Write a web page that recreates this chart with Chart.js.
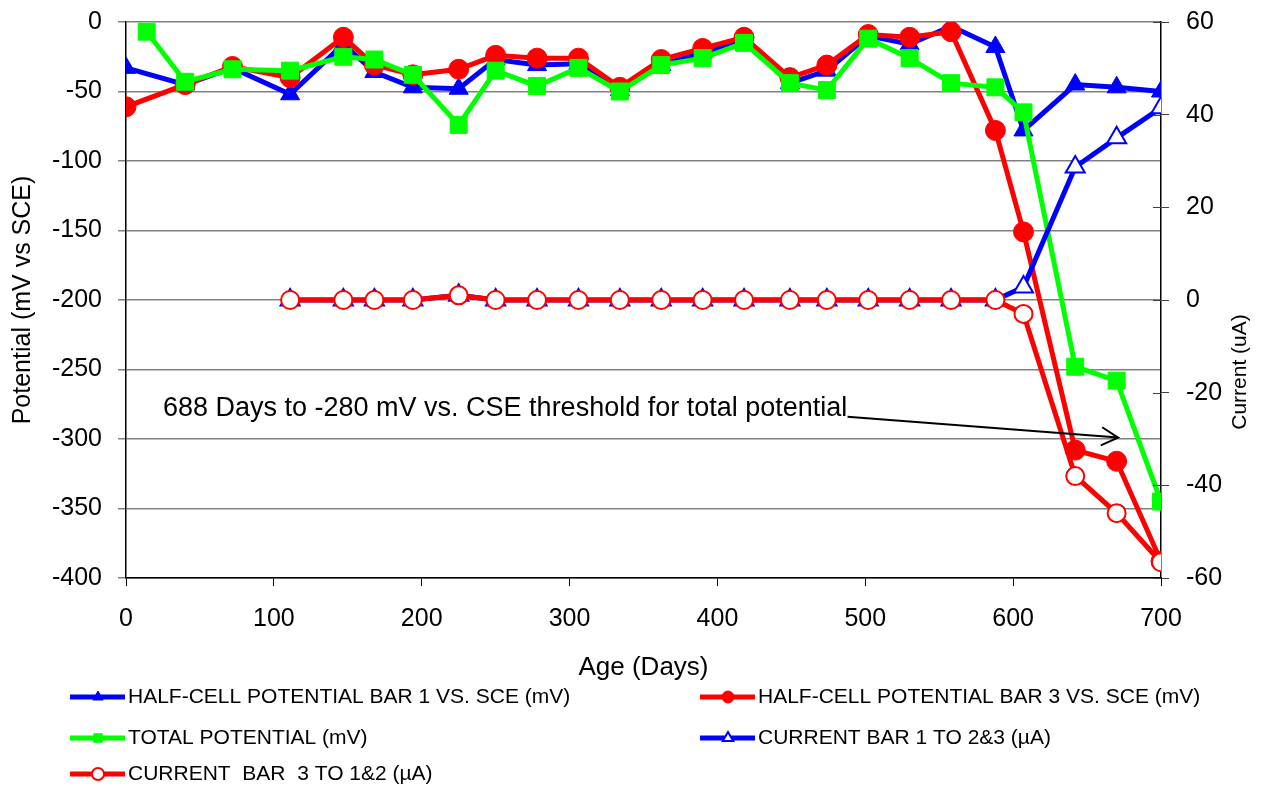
<!DOCTYPE html>
<html>
<head>
<meta charset="utf-8">
<script src="https://cdn.jsdelivr.net/npm/chart.js@4.4.0/dist/chart.umd.min.js"></script>
<style>
  html, body { margin: 0; padding: 0; background: #fff; }
  canvas { display: block; }
</style>
</head>
<body>
<canvas id="potentialChart" width="1267" height="788"></canvas>
<script>
// Age of each reading (days)
const ageDays = [0, 14, 40, 72, 111, 147, 168, 194, 225, 250, 278, 306, 334, 362, 390, 418, 449, 474, 502, 530, 558, 588, 607, 642, 670, 700];

// Potentials (mV vs SCE), null = no reading
const bar1Potential = [-33, null, -45, -33, -52, -16, -36, -47, -48, -27, -31, -30, -49, -31, -22, -13, -44, -35, -10, -16, -3, -18, -78, -45, -47, -50];
const bar3Potential = [-61, null, -45, -32, -40, -11, -31, -38, -34, -24, -26, -26, -47, -27, -19, -11, -40, -31, -9, -11, -7, -78, -151, -308, -316, -388];
const totalPotential = [null, -7, -43, -34, -35, -25, -27, -38, -74, -35, -46, -33, -50, -31, -26, -15, -44, -49, -12, -26, -44, -47, -65, -248, -258, -345];

// Currents (uA)
const currentBar1 = [null, null, null, null, 0, 0, 0, 0, 1, 0, 0, 0, 0, 0, 0, 0, 0, 0, 0, 0, 0, 0, 2.8, 28.7, 35, 41.5];
const currentBar3 = [null, null, null, null, 0, 0, 0, 0, 1, 0, 0, 0, 0, 0, 0, 0, 0, 0, 0, 0, 0, 0, -3, -38, -46, -56.6];

const seriesLabels = [
    'HALF-CELL POTENTIAL BAR 1 VS. SCE (mV)',
    'HALF-CELL POTENTIAL BAR 3 VS. SCE (mV)',
    'TOTAL POTENTIAL (mV)',
    'CURRENT BAR 1 TO 2&3 (\u00b5A)',
    'CURRENT  BAR  3 TO 1&2 (\u00b5A)'
];

// Annotation: text anchor and arrow ends in (days, mV)
const noteText = '688 Days to -280 mV vs. CSE threshold for total potential';
const noteAnchor = [25, -278];
const arrowFrom = [488, -284];
const arrowTo = [671, -299];

const FONT = "'Liberation Sans', Arial, sans-serif";
Chart.defaults.font.family = FONT;
Chart.defaults.color = '#000';

function toPoints(values) {
    const pts = [];
    values.forEach((v, i) => { if (v !== null) pts.push({ x: ageDays[i], y: v }); });
    return pts;
}

function series(label, values, color, style, radius, open, axis, order) {
    return {
        label: label,
        data: toPoints(values),
        yAxisID: axis,
        order: order,
        borderColor: color,
        backgroundColor: color,
        borderWidth: 5,
        pointStyle: style,
        pointRadius: radius,
        pointHoverRadius: radius,
        pointBackgroundColor: open ? '#fff' : color,
        pointBorderColor: color,
        pointBorderWidth: open ? 2 : 1,
        tension: 0
    };
}

// legend, annotation, right-hand title and the inner half of the right ticks
const extras = {
    id: 'extras',
    afterDraw(chart) {
        const ctx = chart.ctx;
        const xs = chart.scales.x, ys = chart.scales.y, yr = chart.scales.y1;
        const area = chart.chartArea;

        // annotation text
        ctx.save();
        ctx.fillStyle = '#000';
        ctx.font = '27px ' + FONT;
        ctx.textAlign = 'left';
        ctx.textBaseline = 'middle';
        ctx.fillText(noteText, xs.getPixelForValue(noteAnchor[0]), ys.getPixelForValue(noteAnchor[1]));

        // arrow
        const x1 = xs.getPixelForValue(arrowFrom[0]), y1 = ys.getPixelForValue(arrowFrom[1]);
        const x2 = xs.getPixelForValue(arrowTo[0]), y2 = ys.getPixelForValue(arrowTo[1]);
        const ang = Math.atan2(y2 - y1, x2 - x1);
        ctx.strokeStyle = '#000';
        ctx.lineWidth = 2;
        ctx.beginPath();
        ctx.moveTo(x1, y1);
        ctx.lineTo(x2, y2);
        ctx.moveTo(x2 - 19 * Math.cos(ang - 0.5), y2 - 19 * Math.sin(ang - 0.5));
        ctx.lineTo(x2, y2);
        ctx.lineTo(x2 - 19 * Math.cos(ang + 0.5), y2 - 19 * Math.sin(ang + 0.5));
        ctx.stroke();

        // right axis ticks also cross into the plot
        ctx.strokeStyle = '#404040';
        ctx.lineWidth = 1;
        ctx.beginPath();
        yr.ticks.forEach(t => {
            const ty = Math.round(yr.getPixelForValue(t.value)) + 0.5;
            ctx.moveTo(area.right - 8, ty);
            ctx.lineTo(area.right, ty);
        });
        ctx.stroke();
        ctx.restore();

        // right axis title (reads bottom to top)
        ctx.save();
        ctx.translate(1240, (area.top + area.bottom) / 2 + 72);
        ctx.rotate(-Math.PI / 2);
        ctx.font = '21px ' + FONT;
        ctx.fillStyle = '#000';
        ctx.textAlign = 'center';
        ctx.textBaseline = 'middle';
        ctx.fillText('Current (uA)', 0, 0);
        ctx.restore();

        // legend, two columns
        const colX = [70, 700];
        const rowY = [697, 738, 774];
        chart.data.datasets.forEach((ds, i) => {
            const lx = colX[i % 2], ly = rowY[Math.floor(i / 2)];
            ctx.save();
            ctx.strokeStyle = ds.borderColor;
            ctx.lineWidth = 5;
            ctx.beginPath();
            ctx.moveTo(lx, ly);
            ctx.lineTo(lx + 55, ly);
            ctx.stroke();
            ctx.fillStyle = ds.pointBackgroundColor;
            ctx.strokeStyle = ds.pointBorderColor;
            ctx.lineWidth = ds.pointBorderWidth;
            Chart.helpers.drawPoint(ctx, { pointStyle: ds.pointStyle, radius: 6, rotation: 0, borderWidth: ds.pointBorderWidth }, lx + 28, ly);
            ctx.fillStyle = '#000';
            ctx.font = '21px ' + FONT;
            ctx.textAlign = 'left';
            ctx.textBaseline = 'middle';
            ctx.fillText(ds.label, lx + 58, ly);
            ctx.restore();
        });
    }
};

new Chart(document.getElementById('potentialChart'), {
    type: 'line',
    data: {
        datasets: [
            series(seriesLabels[0], bar1Potential, '#0000ff', 'triangle', 11, false, 'y', 4),
            series(seriesLabels[1], bar3Potential, '#ff0000', 'circle', 10, false, 'y', 3),
            series(seriesLabels[2], totalPotential, '#00ff00', 'rect', 12, false, 'y', 2),
            series(seriesLabels[3], currentBar1, '#0000ff', 'triangle', 11, true, 'y1', 1),
            series(seriesLabels[4], currentBar3, '#ff0000', 'circle', 9, true, 'y1', 0)
        ]
    },
    options: {
        responsive: false,
        animation: false,
        layout: { padding: { top: 22, left: 0, right: 0, bottom: 100 } },
        plugins: {
            legend: { display: false },
            tooltip: { enabled: false }
        },
        scales: {
            x: {
                type: 'linear',
                min: 0, max: 700,
                ticks: { stepSize: 100, font: { size: 25 }, padding: 18, maxRotation: 0 },
                grid: { drawOnChartArea: false, tickLength: 8, color: '#000' },
                border: { color: '#000', width: 1.5 },
                title: { display: true, text: 'Age (Days)', font: { size: 26 }, padding: { top: 0, bottom: 5 } },
                afterFit(s) { s.height = 110; }
            },
            y: {
                position: 'left',
                min: -400, max: 0,
                // small lineHeight keeps the label half-height from pushing the plot down
                ticks: { stepSize: 50, font: { size: 25, lineHeight: 0.2 }, padding: 16 },
                grid: { color: '#808080', tickLength: 8, lineWidth: 1.5 },
                border: { color: '#000', width: 1.5 },
                title: { display: true, text: 'Potential (mV vs SCE)', font: { size: 25 }, padding: { top: 8, bottom: 0 } },
                afterFit(s) { s.width = 126; }
            },
            y1: {
                position: 'right',
                min: -60, max: 60,
                ticks: { stepSize: 20, font: { size: 25, lineHeight: 0.2 }, padding: 17 },
                grid: { drawOnChartArea: false, tickLength: 8, color: '#404040' },
                border: { color: '#000', width: 1.5 },
                afterFit(s) { s.width = 106; }
            }
        }
    },
    plugins: [extras]
});
</script>
</body>
</html>
